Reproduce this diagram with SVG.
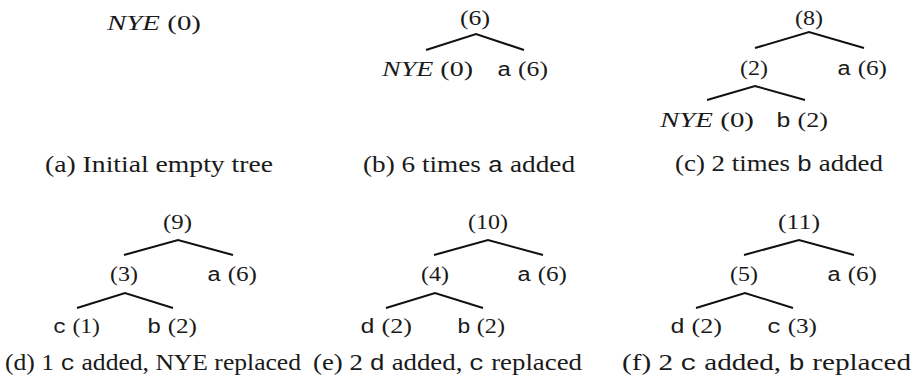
<svg xmlns="http://www.w3.org/2000/svg" width="913" height="389" viewBox="0 0 913 389">
<style>
.t{font-family:"Liberation Serif","Times New Roman",serif;font-size:21px;fill:#1a1a1a}
.cap{font-size:23px}
.m{font-family:"Liberation Mono","Courier New",monospace;font-size:20px}
.cap .m{font-size:22px}
.i{font-style:italic}
.e{stroke:#111;stroke-width:2;fill:none;stroke-linecap:butt}
</style>
<rect width="913" height="389" fill="#fff"/>
<g id="connectors">
<path class="e" d="M426,50 L476,34 L524,50"/>
<path class="e" d="M755,48 L809,32 L864,48"/>
<path class="e" d="M707,100 L755,86 L805,100"/>
<path class="e" d="M124,255 L178,240 L233,255"/>
<path class="e" d="M77,308 L125,293 L173,308"/>
<path class="e" d="M434,255 L488,240 L543,255"/>
<path class="e" d="M386,308 L435,293 L483,308"/>
<path class="e" d="M744,255 L799,240 L854,255"/>
<path class="e" d="M696,308 L745,293 L793,308"/>
</g>
<!-- (a) -->
<g id="a-nye"><text class="t" x="107" y="30" textLength="94" lengthAdjust="spacingAndGlyphs"><tspan class="i">NYE</tspan> (0)</text></g>
<text class="t cap" x="45" y="172" textLength="228" lengthAdjust="spacingAndGlyphs">(a) Initial empty tree</text>
<!-- (b) -->
<g id="b-root"><text class="t" x="460" y="25" textLength="30" lengthAdjust="spacingAndGlyphs">(6)</text></g>
<g id="b-nye"><text class="t" x="382" y="76" textLength="91" lengthAdjust="spacingAndGlyphs"><tspan class="i">NYE</tspan> (0)</text></g>
<g id="b-a"><text class="t" x="497" y="76" textLength="51" lengthAdjust="spacingAndGlyphs"><tspan class="m">a</tspan> (6)</text></g>
<text class="t cap" x="363" y="172" textLength="212" lengthAdjust="spacingAndGlyphs">(b) 6 times <tspan class="m">a</tspan> added</text>
<!-- (c) -->
<g id="c-root"><text class="t" x="795" y="25" textLength="28" lengthAdjust="spacingAndGlyphs">(8)</text></g>
<g id="c-int"><text class="t" x="740" y="75" textLength="28" lengthAdjust="spacingAndGlyphs">(2)</text></g>
<g id="c-a"><text class="t" x="837" y="75" textLength="50" lengthAdjust="spacingAndGlyphs"><tspan class="m">a</tspan> (6)</text></g>
<g id="c-nye"><text class="t" x="660" y="127" textLength="94" lengthAdjust="spacingAndGlyphs"><tspan class="i">NYE</tspan> (0)</text></g>
<g id="c-b"><text class="t" x="776" y="127" textLength="52" lengthAdjust="spacingAndGlyphs"><tspan class="m">b</tspan> (2)</text></g>
<text class="t cap" x="675" y="171" textLength="208" lengthAdjust="spacingAndGlyphs">(c) 2 times <tspan class="m">b</tspan> added</text>
<!-- (d) -->
<g id="d-root"><text class="t" x="163" y="229" textLength="29" lengthAdjust="spacingAndGlyphs">(9)</text></g>
<g id="d-int"><text class="t" x="110" y="281" textLength="28" lengthAdjust="spacingAndGlyphs">(3)</text></g>
<g id="d-a"><text class="t" x="207" y="281" textLength="50" lengthAdjust="spacingAndGlyphs"><tspan class="m">a</tspan> (6)</text></g>
<g id="d-c"><text class="t" x="53" y="333" textLength="47" lengthAdjust="spacingAndGlyphs"><tspan class="m">c</tspan> (1)</text></g>
<g id="d-b"><text class="t" x="147" y="333" textLength="50" lengthAdjust="spacingAndGlyphs"><tspan class="m">b</tspan> (2)</text></g>
<text class="t cap" x="5" y="370" textLength="296" lengthAdjust="spacingAndGlyphs">(d) 1 <tspan class="m">c</tspan> added, NYE replaced</text>
<!-- (e) -->
<g id="e-root"><text class="t" x="468" y="229" textLength="40" lengthAdjust="spacingAndGlyphs">(10)</text></g>
<g id="e-int"><text class="t" x="421" y="281" textLength="28" lengthAdjust="spacingAndGlyphs">(4)</text></g>
<g id="e-a"><text class="t" x="517" y="281" textLength="50" lengthAdjust="spacingAndGlyphs"><tspan class="m">a</tspan> (6)</text></g>
<g id="e-d"><text class="t" x="360" y="333" textLength="52" lengthAdjust="spacingAndGlyphs"><tspan class="m">d</tspan> (2)</text></g>
<g id="e-b"><text class="t" x="457" y="333" textLength="48" lengthAdjust="spacingAndGlyphs"><tspan class="m">b</tspan> (2)</text></g>
<text class="t cap" x="313" y="370" textLength="269" lengthAdjust="spacingAndGlyphs">(e) 2 <tspan class="m">d</tspan> added, <tspan class="m">c</tspan> replaced</text>
<!-- (f) -->
<g id="f-root"><text class="t" x="778" y="229" textLength="42" lengthAdjust="spacingAndGlyphs">(11)</text></g>
<g id="f-int"><text class="t" x="730" y="281" textLength="28" lengthAdjust="spacingAndGlyphs">(5)</text></g>
<g id="f-a"><text class="t" x="827" y="281" textLength="50" lengthAdjust="spacingAndGlyphs"><tspan class="m">a</tspan> (6)</text></g>
<g id="f-d"><text class="t" x="670" y="333" textLength="52" lengthAdjust="spacingAndGlyphs"><tspan class="m">d</tspan> (2)</text></g>
<g id="f-c"><text class="t" x="767" y="333" textLength="50" lengthAdjust="spacingAndGlyphs"><tspan class="m">c</tspan> (3)</text></g>
<text class="t cap" x="622" y="370" textLength="289" lengthAdjust="spacingAndGlyphs">(f) 2 <tspan class="m">c</tspan> added, <tspan class="m">b</tspan> replaced</text>
</svg>
